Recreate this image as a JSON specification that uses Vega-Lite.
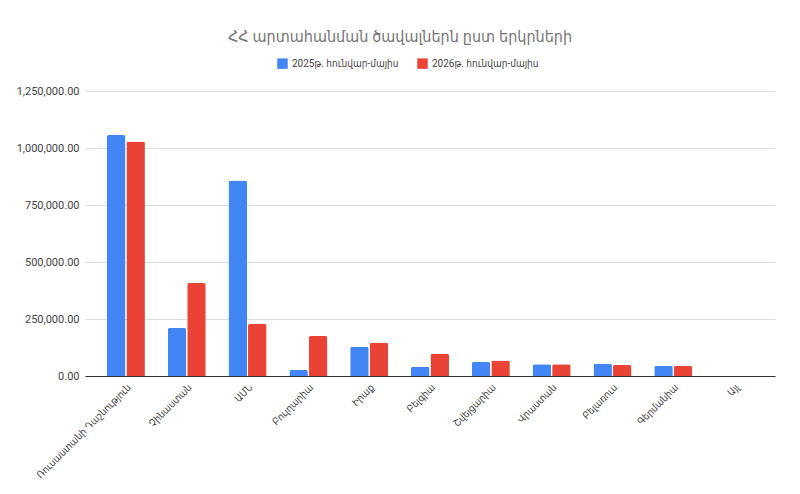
{
  "$schema": "https://vega.github.io/schema/vega-lite/v6.json",
  "width": 690,
  "height": 285,
  "autosize": {"type": "none"},
  "padding": {"left": 85, "top": 91, "right": 25, "bottom": 118},
  "background": "white",
  "config": {
    "font": "Roboto, DejaVu Sans Condensed, DejaVu Sans, sans-serif",
    "view": {"stroke": null}
  },
  "title": {
    "text": "ՀՀ արտահանման ծավալներն ըստ երկրների",
    "anchor": "middle",
    "frame": "group",
    "dx": -30,
    "offset": 13,
    "fontSize": 16,
    "fontWeight": "normal",
    "color": "#757575",
    "font": "Roboto, DejaVu Sans Condensed, DejaVu Sans, sans-serif"
  },
  "data": {
    "values": [
      {"country": "Ռուսաստանի Դաշնություն", "period": "2025թ. հունվար-մայիս", "value": 1057000},
      {"country": "Ռուսաստանի Դաշնություն", "period": "2026թ. հունվար-մայիս", "value": 1028000},
      {"country": "Չինաստան", "period": "2025թ. հունվար-մայիս", "value": 210000},
      {"country": "Չինաստան", "period": "2026թ. հունվար-մայիս", "value": 408000},
      {"country": "ԱՄՆ", "period": "2025թ. հունվար-մայիս", "value": 858000},
      {"country": "ԱՄՆ", "period": "2026թ. հունվար-մայիս", "value": 228000},
      {"country": "Բուլղարիա", "period": "2025թ. հունվար-մայիս", "value": 26000},
      {"country": "Բուլղարիա", "period": "2026թ. հունվար-մայիս", "value": 175000},
      {"country": "Իրաք", "period": "2025թ. հունվար-մայիս", "value": 128000},
      {"country": "Իրաք", "period": "2026թ. հունվար-մայիս", "value": 146000},
      {"country": "Բելգիա", "period": "2025թ. հունվար-մայիս", "value": 41000},
      {"country": "Բելգիա", "period": "2026թ. հունվար-մայիս", "value": 98000},
      {"country": "Շվեյցարիա", "period": "2025թ. հունվար-մայիս", "value": 61000},
      {"country": "Շվեյցարիա", "period": "2026թ. հունվար-մայիս", "value": 68000},
      {"country": "Վրաստան", "period": "2025թ. հունվար-մայիս", "value": 51000},
      {"country": "Վրաստան", "period": "2026թ. հունվար-մայիս", "value": 51000},
      {"country": "Բելառուս", "period": "2025թ. հունվար-մայիս", "value": 54000},
      {"country": "Բելառուս", "period": "2026թ. հունվար-մայիս", "value": 48000},
      {"country": "Գերմանիա", "period": "2025թ. հունվար-մայիս", "value": 44000},
      {"country": "Գերմանիա", "period": "2026թ. հունվար-մայիս", "value": 44000},
      {"country": "Այլ", "period": "2025թ. հունվար-մայիս", "value": 0},
      {"country": "Այլ", "period": "2026թ. հունվար-մայիս", "value": 0}
    ]
  },
  "mark": {"type": "bar", "cornerRadiusTopLeft": 2, "cornerRadiusTopRight": 2},
  "encoding": {
    "x": {
      "field": "country",
      "type": "nominal",
      "sort": null,
      "title": null,
      "scale": {"paddingInner": 0.375, "paddingOuter": 0.36},
      "axis": {
        "labelAngle": -45,
        "labelFontSize": 10,
        "labelFont": "DejaVu Sans Condensed, DejaVu Sans, sans-serif",
        "labelColor": "#444444",
        "domainColor": "#333333",
        "ticks": false,
        "labelPadding": 6,
        "labelLimit": 200
      }
    },
    "xOffset": {
      "field": "period",
      "type": "nominal",
      "scale": {"paddingInner": 0.05}
    },
    "y": {
      "field": "value",
      "type": "quantitative",
      "title": null,
      "scale": {"domain": [0, 1250000], "nice": false},
      "axis": {
        "values": [0, 250000, 500000, 750000, 1000000, 1250000],
        "format": ",.2f",
        "labelFontSize": 11,
        "labelColor": "#444444",
        "domain": false,
        "ticks": false,
        "labelPadding": 6,
        "gridColor": "#dddddd"
      }
    },
    "color": {
      "field": "period",
      "type": "nominal",
      "scale": {"range": ["#4285F4", "#EA4335"]},
      "legend": {
        "title": null,
        "orient": "none",
        "direction": "horizontal",
        "legendX": 192,
        "legendY": -33,
        "symbolType": "square",
        "symbolSize": 110,
        "symbolStrokeWidth": 0,
        "labelFont": "Roboto, DejaVu Sans Condensed, DejaVu Sans, sans-serif",
        "labelFontSize": 10,
        "labelColor": "#444444",
        "columnPadding": 18
      }
    }
  }
}
